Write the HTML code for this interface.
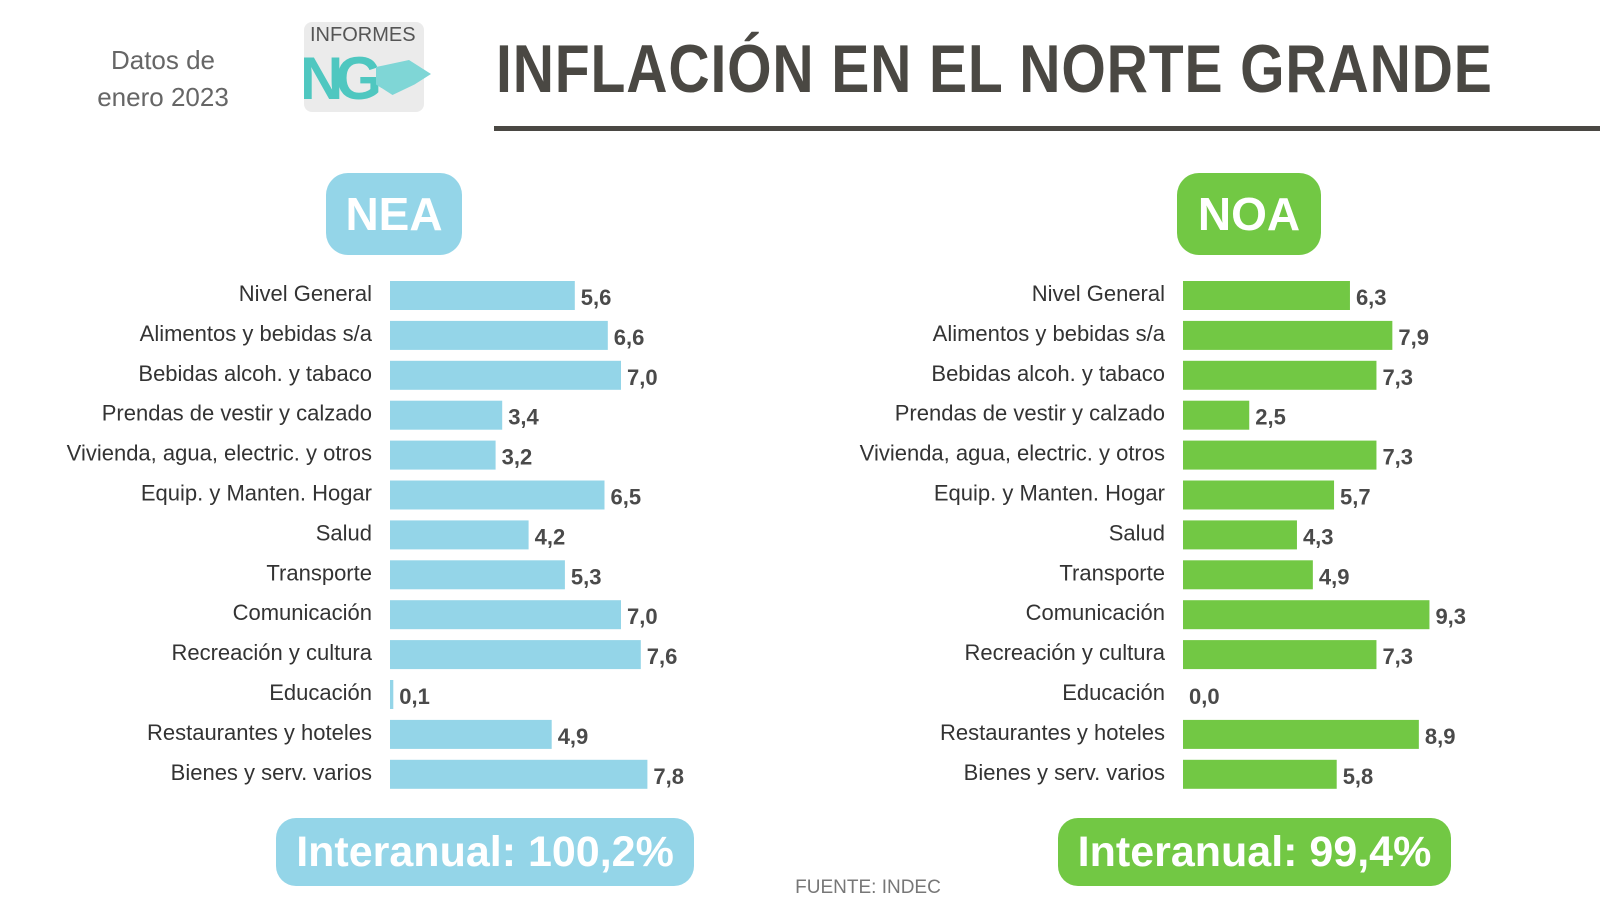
<!DOCTYPE html>
<html><head><meta charset="utf-8"><style>
body{margin:0;background:#fff;width:1600px;height:900px;overflow:hidden;position:relative;font-family:"Liberation Sans",sans-serif}
.abs{position:absolute}
.badge{position:absolute;color:#fff;font-weight:bold;text-align:center;border-radius:22px}
</style></head><body>
<div class="abs" style="left:83px;top:42px;width:160px;text-align:center;font-size:26px;line-height:37px;color:#666">Datos de<br>enero 2023</div>
<div class="abs" style="left:296px;top:20px;width:148px;height:95px">
 <div style="position:absolute;left:8px;top:2px;width:120px;height:90px;background:#ddd;border-radius:8px;opacity:.6"></div>
 <div style="position:absolute;left:14px;top:4px;font-size:20px;color:#555">INFORMES</div>
 <div style="position:absolute;left:4px;top:24px;font-size:60px;font-weight:bold;color:#4fc7c0;letter-spacing:-8px">NG</div>
 <div style="position:absolute;left:80px;top:40px;width:55px;height:35px;background:#7fd6d6;clip-path:polygon(0 20%,60% 0,100% 40%,70% 70%,30% 100%,0 70%)"></div>
</div>
<div class="abs" style="left:496px;top:30px;font-family:'Liberation Sans Narrow','Liberation Sans',sans-serif;font-weight:bold;font-size:68px;color:#4a4843;white-space:nowrap;transform-origin:0 0;transform:scaleX(0.84);letter-spacing:1px">INFLACIÓN EN EL NORTE GRANDE</div>
<div class="abs" style="left:494px;top:126px;width:1106px;height:5px;background:#4a4843"></div>
<div class="badge" style="left:326px;top:173px;width:136px;height:82px;line-height:82px;font-size:46px;background:#94d5e8">NEA</div>
<div class="badge" style="left:1177px;top:173px;width:144px;height:82px;line-height:82px;font-size:46px;background:#72c844">NOA</div>
<div class="badge" style="left:276px;top:818px;width:418px;height:68px;line-height:68px;font-size:43px;background:#94d5e8;border-radius:20px">Interanual: 100,2%</div>
<div class="badge" style="left:1058px;top:818px;width:393px;height:68px;line-height:68px;font-size:43px;background:#72c844;border-radius:20px">Interanual: 99,4%</div>
<div class="abs" style="left:768px;top:877px;width:200px;text-align:center;font-size:19px;color:#777">FUENTE: INDEC</div>
<svg id="chart" class="abs" style="left:0;top:0" width="1600" height="900"></svg>
<script>
const categories=["Nivel General","Alimentos y bebidas s/a","Bebidas alcoh. y tabaco","Prendas de vestir y calzado","Vivienda, agua, electric. y otros","Equip. y Manten. Hogar","Salud","Transporte","Comunicación","Recreación y cultura","Educación","Restaurantes y hoteles","Bienes y serv. varios"];
const neaValues=[5.6,6.6,7.0,3.4,3.2,6.5,4.2,5.3,7.0,7.6,0.1,4.9,7.8];
const noaValues=[6.3,7.9,7.3,2.5,7.3,5.7,4.3,4.9,9.3,7.3,0.0,8.9,5.8];
const svg=document.getElementById('chart');
const NS='http://www.w3.org/2000/svg';
function yPos(i){return 295+i*39.9;}
function draw(vals,x0,scale,color,labelRight,prefix){
 vals.forEach((v,i)=>{
  const y=yPos(i);
  const t=document.createElementNS(NS,'text');
  
  
  t.setAttribute('x',labelRight);t.setAttribute('y',y+6);t.setAttribute('text-anchor','end');
  t.setAttribute('font-size','22');t.setAttribute('fill','#333');t.setAttribute('font-family','Liberation Sans, sans-serif');
  t.textContent=categories[i];svg.appendChild(t);
  const w=Math.max(v*scale,v>0?2:0);
  const r=document.createElementNS(NS,'rect');
  
  
  r.setAttribute('x',x0);r.setAttribute('y',y-14);r.setAttribute('width',w);r.setAttribute('height',29);r.setAttribute('fill',color);
  svg.appendChild(r);
  const vl=document.createElementNS(NS,'text');
  
  
  vl.setAttribute('x',x0+w+6);vl.setAttribute('y',y+10);vl.setAttribute('font-size','22');vl.setAttribute('font-weight','bold');
  vl.setAttribute('fill','#4a4a4a');vl.setAttribute('font-family','Liberation Sans, sans-serif');
  vl.textContent=v.toFixed(1).replace('.',',');svg.appendChild(vl);
 });
}
draw(neaValues,390,33,'#94d5e8',372,'nea');
draw(noaValues,1183,26.5,'#72c844',1165,'noa');
</script>
</body></html>
